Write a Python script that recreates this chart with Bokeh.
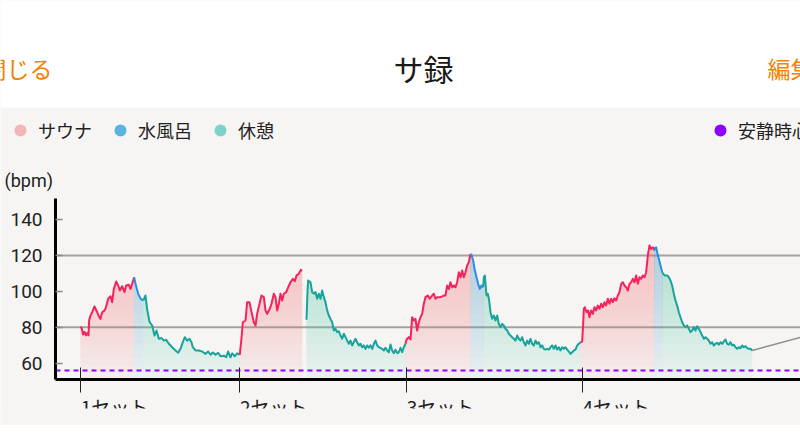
import numpy as np
from bokeh.plotting import figure
from bokeh.models import (Range1d, FixedTicker, LinearAxis, Legend, LegendItem,
                          Label, BoxAnnotation)
from bokeh.embed import file_html
from bokeh.resources import INLINE

# ---------------- data ----------------
# elapsed time (seconds from the start of set 1) and heart rate (bpm)
seconds = [
    # set 1 sauna
    0, 18, 30, 48, 66, 84, 96, 104, 120, 140, 168, 200, 222, 240, 260, 280, 300, 332, 360, 380,
    400, 428, 452, 472, 500, 528, 548, 580, 600, 620, 644,
    # set 1 cold bath
    660, 678, 692, 720, 752,
    # set 1 rest
    780, 800, 828, 860, 888, 912, 940, 972, 1000, 1028, 1060, 1100, 1140, 1172, 1200, 1228, 1252,
    1280, 1308, 1332, 1348, 1380, 1420, 1460, 1500, 1532, 1560, 1588, 1620, 1652, 1680, 1720, 1748,
    1772, 1800, 1820, 1852, 1880, 1908,
    # set 2 sauna
    1912, 1928, 1948, 1980, 2000, 2028, 2048, 2080, 2100, 2120, 2148, 2172, 2200, 2220, 2240, 2272,
    2292, 2320, 2340, 2360, 2380, 2400, 2420, 2440, 2468, 2492, 2520, 2548, 2572, 2592, 2620, 2644, 2660,
    # set 2 rest
    2712, 2724, 2732, 2760, 2780, 2804, 2820, 2840, 2860, 2880, 2900, 2920, 2940, 2960, 2980, 3000,
    3020, 3040, 3060, 3080, 3100, 3120, 3140, 3160, 3180, 3200, 3220, 3240, 3260, 3280, 3300, 3320,
    3340, 3360, 3380, 3400, 3420, 3440, 3460, 3480, 3500, 3520, 3540, 3560, 3580, 3620, 3640, 3660,
    3680, 3700, 3720, 3740, 3760, 3780, 3800, 3820, 3840, 3860, 3880, 3900,
    # set 3 sauna
    3912, 3920, 3940, 3960, 3980, 4000, 4020, 4040, 4060, 4080, 4100, 4120, 4140, 4168, 4192, 4220,
    4240, 4260, 4280, 4320, 4360, 4380, 4400, 4420, 4440, 4460, 4480, 4500, 4520, 4540, 4560, 4580,
    4600, 4620, 4640, 4660, 4680,
    # set 3 cold bath
    4692, 4712, 4728, 4752, 4772, 4792, 4812, 4832,
    # set 3 rest
    4840, 4852, 4872, 4888, 4904, 4920, 4940, 4960, 4980, 5000, 5020, 5040, 5060, 5080, 5100, 5120,
    5140, 5160, 5180, 5200, 5220, 5240, 5260, 5280, 5300, 5320, 5340, 5360, 5380, 5400, 5420, 5440,
    5460, 5480, 5500, 5520, 5540, 5560, 5580, 5600, 5620, 5640, 5660, 5680, 5700, 5720, 5740, 5760,
    5780, 5800, 5820, 5840, 5860, 5880, 5900, 5920, 5940, 5960, 5980, 6000,
    # set 4 sauna
    6020, 6032, 6040, 6052, 6072, 6092, 6108, 6128, 6148, 6168, 6188, 6208, 6228, 6248, 6268, 6288,
    6308, 6328, 6348, 6368, 6388, 6408, 6428, 6448, 6468, 6488, 6508, 6528, 6548, 6568, 6588, 6608,
    6628, 6648, 6668, 6688, 6708, 6728, 6748, 6768, 6788, 6808, 6828, 6848, 6868, 6884,
    # set 4 cold bath
    6892, 6908, 6920, 6940, 6960, 6980,
    # set 4 rest
    6992, 7012, 7040, 7060, 7080, 7100, 7120, 7140, 7160, 7180, 7200, 7220, 7240, 7260, 7280, 7300,
    7320, 7340, 7360, 7380, 7400, 7420, 7440, 7460, 7480, 7500, 7520, 7540, 7560, 7580, 7600, 7620,
    7640, 7660, 7680, 7700, 7720, 7740, 7760, 7780, 7800, 7820, 7840, 7860, 7880, 7900, 7920, 7940,
    7960, 7980, 8000, 8020, 8040, 8060,
    # after the session
    9240,
]
bpm = [
    80.5, 79, 76, 77.5, 75.5, 77, 75.5, 84, 86.5, 88.4, 91.6, 88.4, 86, 84.7, 88.4, 89, 90.3, 95.9, 97.3, 94,
    101.4, 105.5, 103.3, 100.5, 102.9, 99.6, 103.3, 103.7, 101.4, 104.2, 107.9,
    104.2, 101, 98.7, 96, 94.9,
    97.7, 90, 83, 81, 75.4, 78.2, 73.6, 74, 72.6, 73, 70.8, 68.9, 67.1, 65.8, 68, 71.7, 74.5,
    72.6, 73.6, 71.7, 68.9, 67.1, 67.1, 66.5, 65.2, 66.5, 64.7, 66, 64.7, 65.8, 63.9, 64.2, 63.3,
    66.5, 63.3, 65.5, 63.9, 65.5, 64.7,
    65, 72, 82.8, 83.8, 94, 94, 89.4, 82.8, 81, 87.5, 93.1, 97.7, 96.8, 89.4, 87.5, 90.3,
    93.1, 98.7, 96.8, 89.4, 93.1, 98.7, 94.9, 98.7, 99.6, 102.3, 105.1, 107, 105.7, 108.9, 109.8, 112, 111.6,
    84.2, 100, 106.1, 105.1, 99.6, 98.7, 99.6, 95.9, 98.7, 95.9, 100.5, 96.8, 94, 89.4, 86.6, 84.7,
    82.8, 78.2, 79.1, 77.3, 77.8, 75.4, 73.6, 76.4, 74.5, 72.6, 70.8, 72.6, 69.9, 71.7, 73.6, 71.7,
    69.9, 70.8, 68.9, 69.9, 68, 69.9, 68.6, 69.9, 68, 70.8, 72.6, 69.9, 68.9, 68, 67.1, 68.6,
    67.1, 66.1, 70.4, 67.1, 65.6, 67.5, 65.6, 66.1, 68.6, 66.1, 68.9, 70.8,
    73, 73.6, 74.5, 73.2, 85.6, 83.8, 84.7, 78.2, 82.8, 85.6, 87.5, 93.1, 96.8, 97.7, 95.9, 97.7,
    98.7, 95.9, 96.8, 96.8, 97.7, 97.7, 103.3, 101.4, 105.1, 102.3, 103.3, 102.3, 105.1, 110.7, 107.9, 111.6,
    107.9, 110.7, 114.4, 116.3, 120.9,
    120.4, 117.2, 112.6, 107.9, 104.2, 101.4, 103.3, 102.3,
    107.9, 108.9, 97.7, 98.7, 94.9, 88.4, 84.7, 86.6, 83.8, 86.6, 81.9, 80.1, 81.9, 81, 79.2, 78.2,
    76.4, 75.4, 74.5, 73.6, 72.6, 75.4, 73.6, 72.6, 74.5, 71.7, 69.9, 72.6, 70.8, 73.6, 70.8, 69.9,
    72.6, 70.8, 71.7, 68.9, 69.9, 68, 67.6, 68, 67.6, 68.9, 69.9, 68, 69.9, 67.6, 68.9, 67.1,
    68.9, 68, 68.9, 67.6, 66.5, 65.2, 66.1, 67.1, 67.6, 69.9, 70.8, 71.7,
    72, 82, 90.3, 91.2, 88.4, 89.4, 85.6, 89.4, 87.5, 91.2, 89.4, 92.1, 90.3, 93.1, 91.2, 94,
    92.1, 95.9, 93.1, 95.9, 94, 96.2, 94.9, 97.7, 99.6, 104.2, 105.1, 103.3, 102.3, 100.5, 104.2, 105.1,
    107, 105.1, 108.9, 104.2, 107.9, 107, 108.9, 107.9, 110.7, 120, 125.6, 123.7, 124.6, 122.8,
    124.1, 124.6, 121.8, 118.2, 114.4, 110.7,
    109.8, 108.9, 108.9, 107.9, 106.1, 103.3, 98.7, 94.9, 92.1, 88.4, 85.6, 82.8, 81, 80.1, 81, 79.2,
    77.3, 78.2, 80.1, 78.2, 80.6, 79.2, 77.3, 75.4, 73.6, 74.5, 73.6, 72.6, 70.8, 71.7, 69.9, 70.8,
    71.4, 70.3, 71.7, 70.8, 72.1, 73.2, 70.8, 70.3, 71.7, 69.9, 70.3, 68.9, 68, 68.9, 68.4, 69.9,
    68.9, 69.5, 68.4, 68, 68, 67.1,
    82,
]
# phases (start time in seconds and kind); "none" = no measurement
phase_start_sec = [0, 660, 780, 1912, 2661, 2712, 3912, 4692, 4840, 6020, 6892, 6992, 8061]
phase_kind = ["sauna", "bath", "rest", "sauna", "none", "rest", "sauna", "bath", "rest",
              "sauna", "bath", "rest", "other"]
set_labels = ["1セット", "2セット", "3セット", "4セット"]
resting_hr = 56
legend_labels = ["サウナ", "水風呂", "休憩"]
resting_label = "安静時心拍"
y_ticks = [60, 80, 100, 120, 140]
grid_values = [80, 120]
header_left, header_title, header_right = "閉じる", "サ録", "編集"

# ---------------- layout / style ----------------
W, H = 800, 425
BG = "#f6f5f4"
LINE = {"sauna": "#f5225e", "bath": "#2b8fe0", "rest": "#18a39c", "other": "#8c8c8c"}
FILL = {"sauna": "#ee7f8c", "bath": "#5cb0dc", "rest": "#52c2b6"}
DOT = {"sauna": "#f2b6b9", "bath": "#5ab4e0", "rest": "#7dd3c8"}
PURPLE = "#8e00ff"
JP = "Noto Sans CJK JP"
TXT = "#222222"
GRID = "#a2a2a2"

# pixel <-> data mapping of the canvas (frame covers the whole canvas)
SEC_PER_PX = 12.0
X0_PX = 80.0                 # pixel column of t = 0
PX_PER_BPM = 1.795
Y60_PX = 362.7               # pixel row of 60 bpm
def t_at(px):
    return (px - X0_PX) * SEC_PER_PX
def bpm_at(py):
    return 60 + (Y60_PX - py) / PX_PER_BPM

X_LO, X_HI = t_at(0), t_at(W)
Y_BOT, Y_TOP = bpm_at(H), bpm_at(0)
AXIS_X = t_at(55)            # y-axis position
Y_LO, Y_HI = bpm_at(379), bpm_at(198)

# ---------------- runs ----------------
sec = np.array(seconds, dtype=float)
hr = np.array(bpm, dtype=float)
starts = np.array(phase_start_sec, dtype=float)
phase_idx = np.searchsorted(starts, sec, side="right") - 1
runs = []
prev_last = None
for k, kind in enumerate(phase_kind):
    m = phase_idx == k
    xs = list(sec[m]); ys = list(hr[m])
    if m.any() and prev_last is not None:
        xs = [prev_last[0]] + xs
        ys = [prev_last[1]] + ys
    runs.append((kind, xs, ys))
    prev_last = (sec[m][-1], hr[m][-1]) if m.any() else None

set_starts = [phase_start_sec[i] for i, k in enumerate(phase_kind) if k == "sauna"]

# ---------------- figure ----------------
p = figure(width=W, height=H, x_range=Range1d(X_LO, X_HI), y_range=Range1d(Y_BOT, Y_TOP),
           output_backend="svg", toolbar_location=None, min_border=0,
           min_border_left=0, min_border_right=0, min_border_top=0, min_border_bottom=0,
           x_axis_type=None, y_axis_type=None, background_fill_color=BG,
           border_fill_color=BG, outline_line_color=None)

# horizontal grid lines, starting at the y axis
for g in grid_values:
    p.line(x=[AXIS_X, X_HI], y=[g, g], line_color=GRID, line_width=2)

# gradient-like fills (stacked translucent bands)
for kind, xs, ys in runs:
    if kind not in FILL or len(xs) < 2:
        continue
    xa = np.array(xs); ya = np.array(ys)
    p.varea(x=xa, y1=np.full_like(ya, Y_LO), y2=ya, fill_color=FILL[kind], fill_alpha=0.07)
    for lev in np.arange(Y_LO + 4, ya.max(), 4):
        p.varea(x=xa, y1=np.full_like(ya, lev), y2=np.maximum(ya, lev),
                fill_color=FILL[kind], fill_alpha=0.022)

for kind, xs, ys in runs:
    if kind not in LINE or len(xs) < 2:
        continue
    p.line(x=xs, y=ys, line_color=LINE[kind], line_width=2 if kind != "other" else 1.5,
           line_join="round")

# resting heart rate
p.line(x=[AXIS_X, X_HI], y=[resting_hr, resting_hr], line_color=PURPLE,
       line_dash="5 4", line_width=2)

# y axis
yax = LinearAxis(ticker=FixedTicker(ticks=y_ticks, minor_ticks=[]), fixed_location=AXIS_X,
                 bounds=(Y_LO, Y_HI),
                 axis_line_color="black", axis_line_width=3,
                 major_tick_in=7, major_tick_out=0, major_tick_line_color="#8a8a8a",
                 major_tick_line_width=1.5, minor_tick_line_color=None,
                 major_label_text_font="Roboto", major_label_text_font_size="19px",
                 major_label_text_color=TXT, major_label_standoff=13)
p.add_layout(yax, "left")

# x axis: line + set ticks
xax = LinearAxis(ticker=FixedTicker(ticks=set_starts, minor_ticks=[]), fixed_location=Y_LO,
                 bounds=(AXIS_X, X_HI),
                 axis_line_color="black", axis_line_width=3,
                 major_tick_in=12, major_tick_out=13, major_tick_line_color=TXT,
                 major_tick_line_width=1, minor_tick_line_color=None,
                 major_label_text_font_size="0px", major_label_standoff=0,
                 major_label_overrides={s: "" for s in set_starts})
p.add_layout(xax, "below")

# x axis labels, left-aligned at the set ticks (shifted by half a label width)
half_label = 34 * SEC_PER_PX
label_pos = [s + half_label for s in set_starts]
xlab = LinearAxis(ticker=FixedTicker(ticks=label_pos, minor_ticks=[]), fixed_location=Y_LO,
                  axis_line_color=None, major_tick_line_color=None,
                  major_tick_in=0, major_tick_out=0, minor_tick_line_color=None,
                  major_label_text_font=JP, major_label_text_font_size="19px",
                  major_label_text_color=TXT, major_label_standoff=13,
                  major_label_overrides={lp: lab for lp, lab in zip(label_pos, set_labels)})
p.add_layout(xlab, "below")

# the scrolling chart area ends just below the set labels
p.add_layout(BoxAnnotation(top=bpm_at(408), fill_color=BG, fill_alpha=1.0, line_color=None))
# white header band
p.add_layout(BoxAnnotation(bottom=bpm_at(107), fill_color="white", fill_alpha=1.0,
                           line_color=None))

# legends (legend-only renderers: one NaN point, never drawn in the plot)
leg_r = [p.scatter(x=[np.nan], y=[np.nan], marker="circle", size=12, fill_color=DOT[k],
                   line_color=None) for k in ["sauna", "bath", "rest"]]
leg_common = dict(orientation="horizontal", glyph_width=30, glyph_height=30, label_standoff=3,
                  spacing=13, padding=0, margin=0, border_line_color=None,
                  background_fill_alpha=0, label_text_font=JP, label_text_font_size="18px",
                  label_text_color=TXT, label_height=30)
leg1 = Legend(items=[LegendItem(label=l, renderers=[r]) for l, r in zip(legend_labels, leg_r)],
              location=(5, H - 145), **leg_common)
p.add_layout(leg1)
rest_r = p.scatter(x=[np.nan], y=[np.nan], marker="circle", size=12, fill_color=PURPLE,
                   line_color=None)
leg2 = Legend(items=[LegendItem(label=resting_label, renderers=[rest_r])],
              location=(705, H - 145), **leg_common)
p.add_layout(leg2)

# texts
p.add_layout(Label(x=4, y=H - 180, x_units="screen", y_units="screen", text="(bpm)",
                   text_baseline="middle", text_font="Roboto", text_font_size="18px",
                   text_color=TXT))
p.add_layout(Label(x=52, y=H - 67, x_units="screen", y_units="screen", text=header_left,
                   text_align="right", text_baseline="middle", text_font=JP,
                   text_font_size="23px", text_color="#f08300"))
p.add_layout(Label(x=423, y=H - 67, x_units="screen", y_units="screen", text=header_title,
                   text_align="center", text_baseline="middle", text_font=JP,
                   text_font_size="30px", text_color="#1a1a1a"))
p.add_layout(Label(x=767, y=H - 67, x_units="screen", y_units="screen", text=header_right,
                   text_align="left", text_baseline="middle", text_font=JP,
                   text_font_size="23px", text_color="#f08300"))

open("out.html", "w").write(file_html(p, INLINE))
